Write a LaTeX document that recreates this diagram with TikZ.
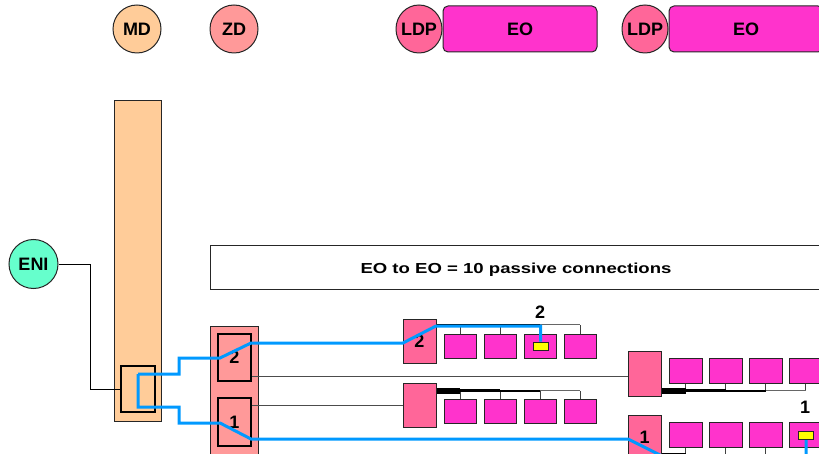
\documentclass[tikz,border=0pt]{standalone}
\usepackage{fontspec}
\setmainfont{Liberation Sans}
\usetikzlibrary{shapes.geometric,calc}
\definecolor{peach}{HTML}{FFCC99}
\definecolor{zdpink}{HTML}{FF9999}
\definecolor{ldppink}{HTML}{FF6699}
\definecolor{eomag}{HTML}{FF33CC}
\definecolor{enigreen}{HTML}{66FFCC}
\definecolor{fiberblue}{HTML}{0099FF}
\definecolor{portyellow}{HTML}{FFFF00}
\begin{document}
\begin{tikzpicture}[x=1pt,y=-1pt,
  lbl/.style={font=\bfseries\fontsize{18}{18}\selectfont},
  ell/.style={ellipse,draw=black!85,line width=1pt,inner sep=0pt,minimum width=48pt,minimum height=48pt},
  bx/.style={rectangle,draw=black!85,line width=1pt,inner sep=0pt},
  portbox/.style={rectangle,draw=black,line width=2.5pt,inner sep=0pt},
  eob/.style={bx,fill=eomag,minimum width=32pt,minimum height=24pt},
  ldpb/.style={bx,fill=ldppink,minimum width=33pt,minimum height=44pt,lbl},
  yel/.style={bx,fill=portyellow,line width=0.8pt,minimum width=15pt,minimum height=8pt},
  fiber/.style={draw=fiberblue,line width=3pt},
  wire/.style={draw=black!70,line width=1pt},
  dropline/.style={draw=black!75,line width=0.9pt},
]
\useasboundingbox (0,0) rectangle (819,454);
\clip (0,0) rectangle (819,454);

% top legend
\node[ell,fill=peach,label={[lbl]center:MD}] (mdtop) at (137,29) {};
\node[ell,fill=zdpink,label={[lbl]center:ZD}] (zdtop) at (234,29) {};
\node[ell,fill=ldppink,minimum width=46pt,label={[lbl]center:LDP}] (ldptopa) at (419,29) {};
\node[bx,fill=eomag,rounded corners=5pt,minimum width=154pt,minimum height=46pt,lbl] (eotopa) at (520,29) {EO};
\node[ell,fill=ldppink,minimum width=46pt,label={[lbl]center:LDP}] (ldptopb) at (645,29) {};
\node[bx,fill=eomag,rounded corners=5pt,minimum width=154pt,minimum height=46pt,lbl] (eotopb) at (746,29) {EO};

% note
\node[bx,minimum width=612pt,minimum height=44pt,text height=10.5pt,text depth=0pt,font=\bfseries\fontsize{14.5}{14.5}\selectfont] (note) at (516,268) {\scalebox{1.28}[1]{EO to EO = 10 passive connections}};

% MD
\node[bx,fill=peach,minimum width=47pt,minimum height=320pt] (mdbar) at (137.5,261) {};
\node[portbox,fill=peach,minimum width=34pt,minimum height=46pt] (mdport) at (138,389) {};

% ENI
\node[ell,fill=enigreen,minimum width=49pt,minimum height=49pt,label={[lbl]center:ENI}] (eni) at (33.5,264) {};
\draw[draw=black,line width=0.9pt] (eni.east) -- ++(32,0) |- (mdport.west);

% ZD
\node[bx,fill=zdpink,minimum width=48pt,minimum height=134pt] (zdbar) at (234,393) {};
\node[portbox,fill=zdpink,minimum width=33pt,minimum height=47pt,lbl] (zdb) at (234.5,357.5) {2};
\node[portbox,fill=zdpink,minimum width=33pt,minimum height=48pt,lbl] (zda) at (234.5,422) {1};

% LDPs
\node[ldpb] (ldpA) at (419.5,341) {2};
\node[ldpb] (ldpB) at (419.5,405) {};
\node[ldpb,minimum height=45pt] (ldpC) at (644.5,373.5) {};
\node[ldpb,minimum height=45pt] (ldpD) at (644.5,437.5) {1};

% EO boxes
\foreach \i/\x in {1/460,2/500,3/540,4/580}{
  \node[eob] (a\i) at (\x,346) {};
  \node[eob] (b\i) at (\x,411) {};
}
\foreach \i/\x in {1/685.5,2/725.5,3/765.5,4/805.5}{
  \node[eob,minimum width=33pt,minimum height=25pt] (c\i) at (\x,370.5) {};
  \node[eob,minimum width=33pt,minimum height=25pt] (d\i) at (\x,435) {};
}

% numbers
\node[lbl] (numtwo) at (540,312) {2};
\node[lbl] (numone) at (805,407) {1};

% ZD to LDP wires
\draw[wire] ([yshift=6pt]zdb.south east) -- ([yshift=6pt]zdb.south east -| ldpC.west);
\draw[wire] ([yshift=-9pt]zda.north east) -- ([yshift=-9pt]zda.north east -| ldpB.west);

% bus row A
\coordinate (busA) at (436,324.5);
\foreach \i in {1,...,4}{\draw[dropline] (a\i.north) -- (a\i.north |- busA);}
\draw[black,line width=1.5pt] (ldpA.east |- busA) -- (a1.north |- busA);
\draw[black,line width=1pt] (a1.north |- busA) -- (a3.north |- busA);
\draw[black!60,line width=1pt] (a3.north |- busA) -- (a4.north |- busA);

% bus row B
\coordinate (busB) at (436,390.5);
\foreach \i in {1,...,4}{\draw[dropline] (b\i.north) -- (b\i.north |- busB);}
\draw[black,line width=6pt] (ldpB.east |- busB) -- (b1.north |- busB);
\draw[black,line width=3.5pt] (b1.north |- busB) -- (b2.north |- busB);
\draw[black,line width=2pt] (b2.north |- busB) -- (b3.north |- busB);
\draw[black!60,line width=1pt] (b3.north |- busB) -- (b4.north |- busB);

% bus row C
\coordinate (busC) at (661,390.5);
\foreach \i in {1,...,4}{\draw[dropline] (c\i.south) -- (c\i.south |- busC);}
\draw[black,line width=6pt] (ldpC.east |- busC) -- (c1.south |- busC);
\draw[black,line width=3.5pt] (c1.south |- busC) -- (c2.south |- busC);
\draw[black,line width=2pt] (c2.south |- busC) -- (c3.south |- busC);
\draw[black!60,line width=1pt] (c3.south |- busC) -- (c4.south |- busC);

% bus row D
\coordinate (busD) at (661,455.5);
\foreach \i in {1,...,4}{\draw[dropline] (d\i.south) -- (d\i.south |- busD);}
\draw[black,line width=6pt] (ldpD.east |- busD) -- (d1.south |- busD);
\draw[black,line width=3.5pt] (d1.south |- busD) -- (d2.south |- busD);
\draw[black,line width=2pt] (d2.south |- busD) -- (d3.south |- busD);
\draw[black!60,line width=1pt] (d3.south |- busD) -- (d4.south |- busD);

% fibres
\coordinate (mdtap) at (138,374);
\node[yel] (yA) at (540.5,346) {};
\node[yel] (yD) at (806,435) {};
\draw[fiber] (mdtap) -- (179,374) -- (179,358) -- (220,358) -- (251,343) -- (403,343) -- (436,326) -| (yA.north);
\draw[fiber] (mdtap) -- (138,407) -- (179,407) -- (179,423) -- (220,423) -- (251,439) -- (628,439) -- (664,457) -- (680,466) -| (yD.south);
\node[yel] at (yA) {};
\node[yel] at (yD) {};
\end{tikzpicture}
\end{document}
